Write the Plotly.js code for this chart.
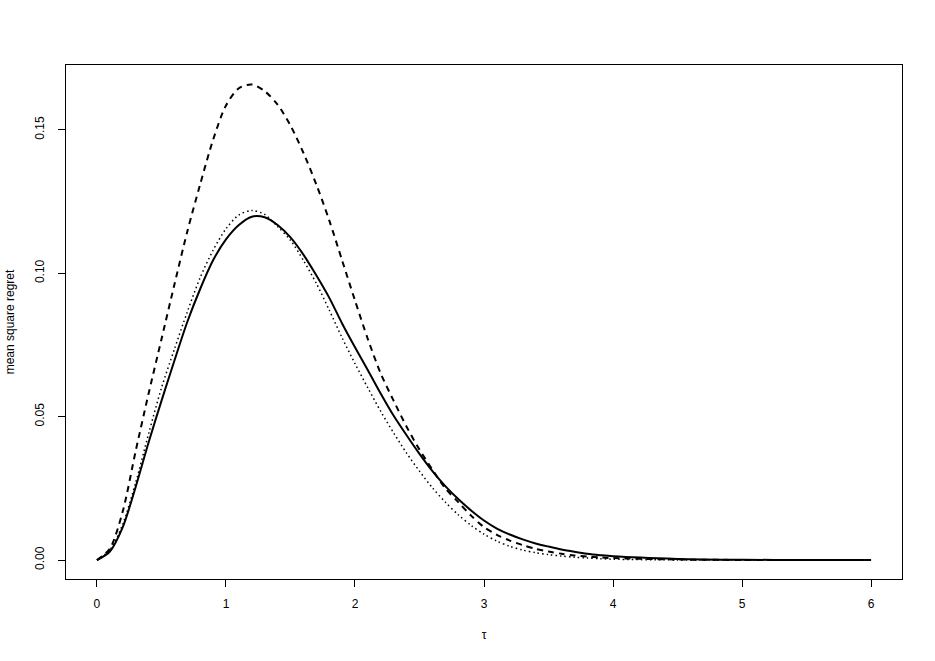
<!DOCTYPE html>
<html>
<head>
<meta charset="utf-8">
<script src="https://cdn.plot.ly/plotly-3.0.1.min.js"></script>
<style>
  html, body { margin: 0; padding: 0; background: #fff; }
  #plot { width: 935px; height: 661px; }
</style>
</head>
<body>
<div id="plot"></div>
<script>
  /* values */
  var TAU = [0, 0.1, 0.2, 0.3, 0.4, 0.5, 0.6, 0.7, 0.8, 0.9,
             1.0, 1.1, 1.2, 1.3, 1.4, 1.5, 1.6, 1.7, 1.8, 1.9,
             2.0, 2.1, 2.2, 2.3, 2.4, 2.5, 2.6, 2.7, 2.8, 2.9,
             3.0, 3.1, 3.2, 3.3, 3.4, 3.5, 3.6, 3.7, 3.8, 3.9,
             4.0, 4.5, 5.0, 5.5, 6.0];

  var SOLID = [0, 0.003, 0.0115, 0.0255, 0.041, 0.0555, 0.0695, 0.083, 0.0945, 0.1045,
               0.1118, 0.1168, 0.1197, 0.1195, 0.1168, 0.1125, 0.1065, 0.0993, 0.0915, 0.0825,
               0.0742, 0.0662, 0.058, 0.0503, 0.0435, 0.037, 0.031, 0.0258, 0.0213, 0.0173,
               0.0138, 0.011, 0.0089, 0.0072, 0.0058, 0.0047, 0.0037, 0.0029, 0.0022, 0.0017,
               0.0013, 0.0004, 0.0001, 0.00003, 0.00001];

  var DASHED = [0, 0.004, 0.017, 0.038, 0.058, 0.077, 0.096, 0.1145, 0.131, 0.1465,
                0.1585, 0.1645, 0.1658, 0.1635, 0.1588, 0.1515, 0.142, 0.131, 0.1185, 0.1045,
                0.0905, 0.077, 0.065, 0.0555, 0.0465, 0.0385, 0.0315, 0.025, 0.0202, 0.0155,
                0.0115, 0.0088, 0.0068, 0.0052, 0.0039, 0.003, 0.0022, 0.0016, 0.0012, 0.0009,
                0.0007, 0.0002, 0.00004, 0.00001, 0];

  var DOTTED = [0, 0.0035, 0.0125, 0.027, 0.044, 0.06, 0.0735, 0.0865, 0.0985, 0.108,
                0.1155, 0.1203, 0.1219, 0.1205, 0.1163, 0.1115, 0.1045, 0.0965, 0.0872, 0.0775,
                0.0685, 0.06, 0.0518, 0.0443, 0.0373, 0.031, 0.0252, 0.0202, 0.0158, 0.0121,
                0.009, 0.0066, 0.0048, 0.0035, 0.0026, 0.0019, 0.0014, 0.001, 0.0007, 0.0005,
                0.0003, 0.00005, 0, 0, 0];

  var X_TICKS = [0, 1, 2, 3, 4, 5, 6];
  var Y_TICKS = [0, 0.05, 0.10, 0.15];
  var Y_LABELS = ['0.00', '0.05', '0.10', '0.15'];

  var FONT = 'Liberation Sans, Arial, Helvetica, sans-serif';

  function curve(y, dash, width) {
    return {
      x: TAU, y: y, mode: 'lines', type: 'scatter',
      line: { color: '#000', width: width, dash: dash, shape: 'spline', smoothing: 0.8 },
      hoverinfo: 'skip', showlegend: false
    };
  }

  var traces = [
    curve(DOTTED, '1.5px,3px', 1.5),
    curve(DASHED, '6px,5px', 2),
    curve(SOLID, 'solid', 2)
  ];

  var layout = {
    width: 935, height: 661,
    margin: { l: 66, r: 33, t: 65, b: 82 },
    paper_bgcolor: '#fff', plot_bgcolor: '#fff',
    font: { family: FONT, size: 12, color: '#000' },
    showlegend: false,
    xaxis: {
      range: [-0.24, 6.24], tickvals: X_TICKS, ticktext: X_TICKS.map(String),
      ticks: 'outside', ticklen: 7, tickwidth: 1, tickcolor: '#000',
      ticklabelstandoff: 7,
      showgrid: false, zeroline: false, showline: true, linecolor: '#000', linewidth: 1, mirror: true,
      title: { text: 'τ', font: { size: 12 }, standoff: 20 }
    },
    yaxis: {
      range: [-0.0066, 0.1726], tickvals: Y_TICKS, ticktext: Y_LABELS, tickangle: -90,
      ticks: 'outside', ticklen: 7, tickwidth: 1, tickcolor: '#000',
      ticklabelstandoff: 9,
      showgrid: false, zeroline: false, showline: true, linecolor: '#000', linewidth: 1, mirror: true,
      title: { text: 'mean square regret', font: { size: 12 }, standoff: 16 }
    }
  };

  Plotly.newPlot('plot', traces, layout, { displayModeBar: false, staticPlot: true });
</script>
</body>
</html>
